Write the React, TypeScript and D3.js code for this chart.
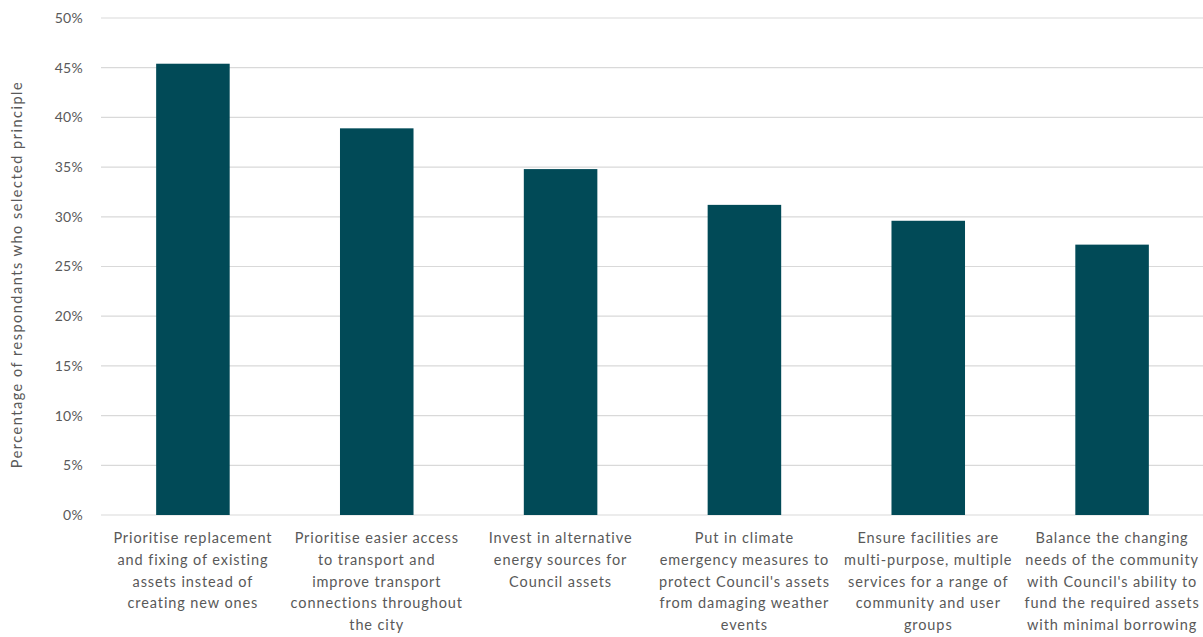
import React from "react";
import * as d3 from "d3";

const categories: string[][] = [
  ["Prioritise replacement", "and fixing of existing", "assets instead of", "creating new ones"],
  ["Prioritise easier access", "to transport and", "improve transport", "connections throughout", "the city"],
  ["Invest in alternative", "energy sources for", "Council assets"],
  ["Put in climate", "emergency measures to", "protect Council's assets", "from damaging weather", "events"],
  ["Ensure facilities are", "multi-purpose, multiple", "services for a range of", "community and user", "groups"],
  ["Balance the changing", "needs of the community", "with Council's ability to", "fund the required assets", "with minimal borrowing"],
];
const values: number[] = [45.4, 38.9, 34.8, 31.2, 29.6, 27.2];
const yTicks: number[] = [0, 5, 10, 15, 20, 25, 30, 35, 40, 45, 50];
const yTitle = "Percentage of respondants who selected principle";

const W = 1203;
const H = 637;
const left = 101;
const right = 1204;
const top = 18;
const bottom = 515;
const font = "Lato, 'Open Sans', sans-serif";
const textColor = "#595959";

export default function App() {
  const x = d3
    .scaleBand<number>()
    .domain(d3.range(categories.length))
    .range([left, right])
    .paddingInner(0.6)
    .paddingOuter(0.3);
  const y = d3.scaleLinear().domain([0, 50]).range([bottom, top]);

  return (
    <div style={{ position: "absolute", left: 0, top: 0 }}>
      <svg width={W} height={H} style={{ display: "block", background: "#fff" }}>
        {yTicks.map((t) => (
          <g key={t}>
            <line x1={left} x2={W} y1={y(t)} y2={y(t)} stroke="#d9d9d9" strokeWidth={1.2} />
            <text
              x={83}
              y={y(t)}
              dy="0.35em"
              textAnchor="end"
              fontFamily={font}
              fontSize={14}
              letterSpacing={0.3}
              fill={textColor}
            >
              {t}%
            </text>
          </g>
        ))}
        {values.map((v, i) => (
          <rect
            key={i}
            x={x(i)!}
            y={y(v)}
            width={x.bandwidth()}
            height={y(0) - y(v)}
            fill="#014a57"
          />
        ))}
        {categories.map((lines, i) => (
          <text
            key={i}
            x={x(i)! + x.bandwidth() / 2}
            y={543}
            textAnchor="middle"
            fontFamily={font}
            fontSize={14.5}
            letterSpacing={0.9}
            fill={textColor}
          >
            {lines.map((l, j) => (
              <tspan key={j} x={x(i)! + x.bandwidth() / 2} dy={j === 0 ? 0 : 21.8}>
                {l}
              </tspan>
            ))}
          </text>
        ))}
        <text
          transform={`translate(22, ${(top + bottom) / 2 + 8}) rotate(-90)`}
          textAnchor="middle"
          fontFamily={font}
          fontSize={14.5}
          letterSpacing={1.5}
          fill={textColor}
        >
          {yTitle}
        </text>
      </svg>
    </div>
  );
}
